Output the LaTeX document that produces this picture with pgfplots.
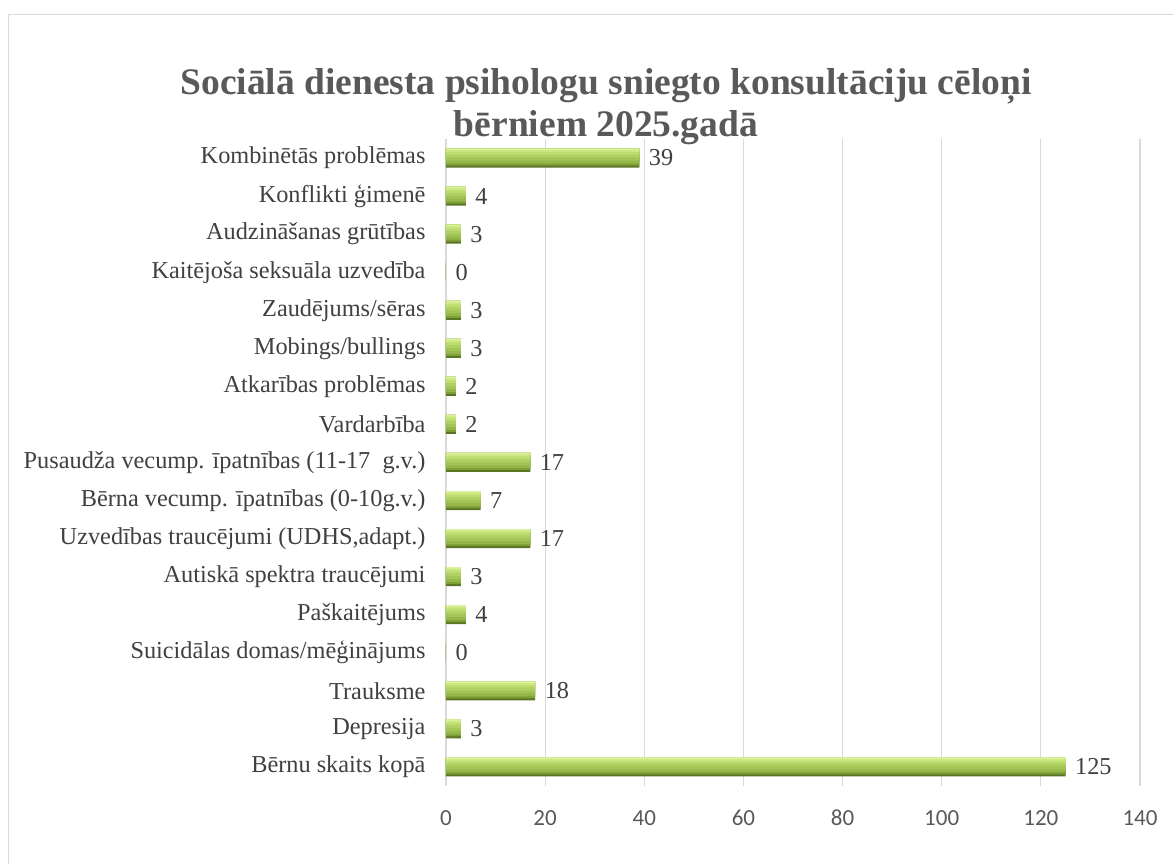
\documentclass[border=0pt]{standalone}
\usepackage{pgfplots}
\usepackage{pgfplotstable}
\pgfplotsset{compat=1.18}
\usepackage{fontspec}
\setmainfont{Liberation Serif}
\newfontfamily\calibri{Carlito}
\definecolor{gridgray}{HTML}{D9D9D9}
\definecolor{txtgray}{HTML}{404040}
\definecolor{titlegray}{HTML}{595959}
\definecolor{cA}{HTML}{5A7525}
\definecolor{cB}{HTML}{7E9E36}
\definecolor{cC}{HTML}{94B64A}
\definecolor{cD}{HTML}{A3C556}
\definecolor{cE}{HTML}{B0D162}
\definecolor{cF}{HTML}{BEDD70}
\definecolor{cG}{HTML}{CBE882}
\definecolor{cH}{HTML}{DDF29E}
\pgfplotstableread{
idx val
0 125
1 3
2 18
3 0
4 4
5 3
6 17
7 7
8 17
9 2
10 2
11 3
12 3
13 0
14 3
15 4
16 39
}\data
\begin{document}
\begin{tikzpicture}[x=1pt,y=1pt]
\useasboundingbox (0,0) rectangle (1173,864);
\draw[gridgray, line width=1.5pt] (8.5,-5) -- (8.5,849.5) -- (1180,849.5);
\node[anchor=base, font=\fontsize{37.5}{42}\selectfont\bfseries, text=titlegray] at (606,769) {Sociālā dienesta psihologu sniegto konsultāciju cēloņi};
\node[anchor=base, font=\fontsize{37.5}{42}\selectfont\bfseries, text=titlegray] at (606,727) {bērniem 2025.gadā};
\begin{axis}[
  at={(446pt,78pt)}, anchor=south west,
  scale only axis, width=694pt, height=647pt,
  xbar,
  xmin=0, xmax=140, ymin=-0.5, ymax=16.5,
  xtick={0,20,...,140},
  ytick={0,...,16},
  yticklabels={Bērnu skaits kopā, Depresija, Trauksme, Suicidālas domas/mēģinājums, Paškaitējums, Autiskā spektra traucējumi, {Uzvedības traucējumi (UDHS,adapt.)}, Bērna vecump. īpatnības (0-10g.v.), Pusaudža vecump. īpatnības (11-17\ \ g.v.), Vardarbība, Atkarības problēmas, Mobings/bullings, Zaudējums/sēras, Kaitējoša seksuāla uzvedība, Audzināšanas grūtības, Konflikti ģimenē, Kombinētās problēmas},
  axis line style={draw=none},
  major tick length=0pt,
  xmajorgrids, grid style={gridgray, line width=1.2pt},
  /pgf/number format/assume math mode=true,
  xticklabel style={font=\calibri\fontsize{23}{28}\selectfont, text=titlegray, anchor=base, yshift=-40pt},
  yticklabel style={font=\fontsize{24.3}{28}\selectfont, text=txtgray, xshift=-17pt},
  every node near coord/.append style={font=\fontsize{24.3}{28}\selectfont, text=txtgray, anchor=west, xshift=6pt},
  clip=false,
]
\addplot[xbar, draw=none, fill=cA, bar width=19pt, bar shift=0pt] table[x=val,y=idx] {\data};
\addplot[xbar, draw=none, fill=cB, bar width=17pt, bar shift=1pt] table[x=val,y=idx] {\data};
\addplot[xbar, draw=none, fill=cC, bar width=15pt, bar shift=2pt] table[x=val,y=idx] {\data};
\addplot[xbar, draw=none, fill=cD, bar width=12pt, bar shift=3.5pt] table[x=val,y=idx] {\data};
\addplot[xbar, draw=none, fill=cE, bar width=9pt, bar shift=5pt] table[x=val,y=idx] {\data};
\addplot[xbar, draw=none, fill=cF, bar width=6pt, bar shift=6.5pt] table[x=val,y=idx] {\data};
\addplot[xbar, draw=none, fill=cG, bar width=3.5pt, bar shift=7.75pt] table[x=val,y=idx] {\data};
\addplot[xbar, draw=none, fill=cH, bar width=1.5pt, bar shift=8.75pt, nodes near coords, every node near coord/.append style={yshift=-8.75pt}] table[x=val,y=idx] {\data};
\end{axis}
\end{tikzpicture}
\end{document}
